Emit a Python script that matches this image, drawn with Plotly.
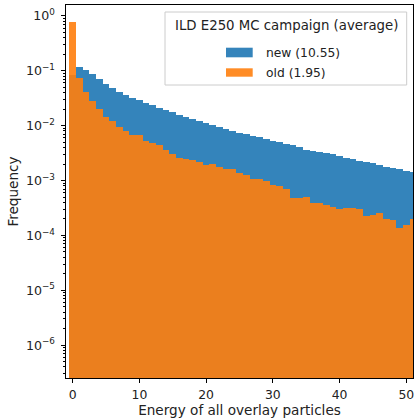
import plotly.graph_objects as go

energy_bins = list(range(0, 52))
new_freq = [0.084, 0.119, 0.1035, 0.086, 0.070, 0.0575, 0.049, 0.041, 0.0367, 0.0324,
            0.0294, 0.0262, 0.0235, 0.0210, 0.0193, 0.0175, 0.0158, 0.0142, 0.0130, 0.0120,
            0.0111, 0.0104, 0.0095, 0.0087, 0.0080, 0.00745, 0.0071, 0.0065, 0.0061, 0.0058,
            0.0053, 0.0051, 0.00469, 0.00438, 0.00403, 0.00365, 0.0035, 0.00327, 0.0032, 0.0030,
            0.0028, 0.0026, 0.00246, 0.0023, 0.00217, 0.00205, 0.00189, 0.00179, 0.00171, 0.0016,
            0.0015, 0.00145]
old_freq = [0.787, 0.073, 0.0406, 0.028, 0.020, 0.0146, 0.0122, 0.0095, 0.0080, 0.0069,
            0.0067, 0.0052, 0.0048, 0.0044, 0.0036, 0.0030, 0.0026, 0.0025, 0.0024, 0.0022,
            0.00195, 0.0020, 0.00174, 0.0016, 0.00164, 0.00135, 0.00124, 0.00105, 0.00108, 0.00099,
            0.00082, 0.00080, 0.00069, 0.00049, 0.00049, 0.00051, 0.00039, 0.00039, 0.000357, 0.00033,
            0.000306, 0.00032, 0.00031, 0.000298, 0.000228, 0.000234, 0.000259, 0.000201, 0.00019, 0.000138,
            0.000155, 0.000196]
new_label = "new (10.55)"
old_label = "old (1.95)"
legend_title = "ILD E250 MC campaign (average)"
x_ticks = [0, 10, 20, 30, 40, 50]
y_exps = [-6, -5, -4, -3, -2, -1, 0]

BLUE = "#1f77b4"
ORANGE = "#ff7f0e"
FONT = "DejaVu Sans"
TXT = "#222222"

# plot area in pixels
L, R, T, B = 66, 413, 5, 378
W, H = 416, 419

def px(x):
    return (x - L) / (R - L)

def py(y):
    return (B - y) / (B - T)

fig = go.Figure()
fig.add_trace(go.Bar(x=energy_bins, y=new_freq, marker=dict(color=BLUE, line=dict(width=0)),
                     opacity=0.9, showlegend=False, width=1))
fig.add_trace(go.Bar(x=energy_bins, y=old_freq, marker=dict(color=ORANGE, line=dict(width=0)),
                     opacity=0.9, showlegend=False, width=1))

minor_vals = [k * 10.0 ** e for e in range(-7, 1) for k in range(2, 10)]

fig.update_layout(
    width=W, height=H,
    margin=dict(l=L, r=W - R, t=T, b=H - B, pad=0),
    barmode="overlay", bargap=0,
    plot_bgcolor="white", paper_bgcolor="white",
    font=dict(family=FONT, size=12, color=TXT),
    xaxis=dict(range=[-1, 51], tickmode="array", tickvals=x_ticks,
               ticks="outside", ticklen=4, tickcolor="black", showline=True, mirror=True,
               linecolor="black", linewidth=1, showgrid=False, zeroline=False,
               title=dict(text="Energy of all overlay particles", standoff=4,
                          font=dict(size=13.6)),
               tickfont=dict(size=12.4), ticklabelstandoff=1),
    yaxis=dict(type="log", range=[-6.6, 0.2], tickmode="array",
               tickvals=[10.0 ** e for e in y_exps],
               ticktext=["10<sup>%s</sup>" % (str(e).replace("-", "\u2212")) for e in y_exps],
               ticks="outside", ticklen=4.5, tickcolor="black", showline=True, mirror=True,
               linecolor="black", linewidth=1, showgrid=False, zeroline=False,
               minor=dict(tickmode="array", tickvals=minor_vals, ticks="outside", ticklen=2.4,
                          tickcolor="black", showgrid=False),
               title=dict(text="Frequency", standoff=4, font=dict(size=13.6)),
               tickfont=dict(size=12.6), ticklabelstandoff=3),
)

# legend (drawn manually to mimic the wide patches)
fig.add_shape(type="rect", xref="paper", yref="paper",
              x0=px(165), x1=px(406.7), y0=py(85), y1=py(12),
              fillcolor="rgba(255,255,255,0.8)", line=dict(color="#cccccc", width=1))
fig.add_annotation(xref="paper", yref="paper", x=px(286), y=py(25), text=legend_title,
                   showarrow=False, xanchor="center", yanchor="middle",
                   font=dict(size=13.3, color=TXT))
fig.add_shape(type="rect", xref="paper", yref="paper",
              x0=px(226), x1=px(252.7), y0=py(57.3), y1=py(47.7),
              fillcolor=BLUE, opacity=0.9, line=dict(width=0))
fig.add_shape(type="rect", xref="paper", yref="paper",
              x0=px(226), x1=px(252.7), y0=py(76.7), y1=py(68.3),
              fillcolor=ORANGE, opacity=0.9, line=dict(width=0))
fig.add_annotation(xref="paper", yref="paper", x=px(264), y=py(53), text=new_label,
                   showarrow=False, xanchor="left", yanchor="middle",
                   font=dict(size=12.3, color=TXT))
fig.add_annotation(xref="paper", yref="paper", x=px(264), y=py(72.7), text=old_label,
                   showarrow=False, xanchor="left", yanchor="middle",
                   font=dict(size=12.3, color=TXT))

fig.write_html("out.html")
